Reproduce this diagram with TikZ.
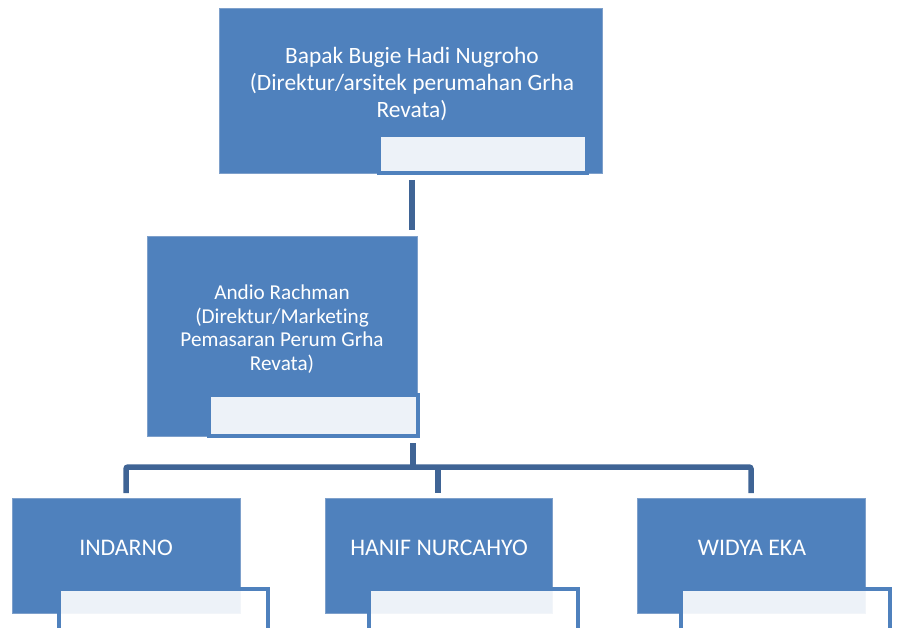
\documentclass[tikz,border=0pt]{standalone}
\usepackage{fontspec}
\setmainfont{Carlito}[Ligatures=NoCommon]
\definecolor{boxblue}{HTML}{4F81BD}
\definecolor{boxedge}{HTML}{7EA0CB}
\definecolor{connblue}{HTML}{3F6495}
\begin{document}
\begin{tikzpicture}[x=1pt,y=1pt,
  person/.style={draw=boxedge,line width=0.8pt,fill=boxblue,inner sep=0pt,minimum width=#1},
  labelbox/.style={draw=boxblue,line width=4pt,fill=white,fill opacity=0.9,draw opacity=1,inner sep=0pt},
  nametext/.style={text=white,align=center,inner sep=0pt},
  conn/.style={draw=connblue,line width=5.5pt,rounded corners=2pt}]
\clip (0,0) rectangle (897,-628);
\useasboundingbox (0,0) rectangle (897,-628);
% top
\node[person=383pt,minimum height=165pt] (top) at (410.5,-90.5) {};
\node[labelbox,minimum width=208pt,minimum height=38pt] (toplbl) at (483,-154) {};
\node[nametext,font=\fontsize{23.4}{26.7}\selectfont] (toptext) at (412,-84) {Bapak Bugie Hadi Nugroho\\(Direktur/arsitek perumahan Grha\\Revata)};
% middle
\node[person=270pt,minimum height=200pt] (mid) at (282,-336) {};
\node[labelbox,minimum width=209pt,minimum height=41pt] (midlbl) at (313.5,-415.5) {};
\node[nametext,font=\fontsize{21.2}{23.7}\selectfont] (midtext) at (282,-329) {Andio Rachman\\(Direktur/Marketing\\Pemasaran Perum Grha\\Revata)};
% bottom
\node[person=228pt,minimum height=115pt] (b1) at (126,-555.5) {};
\node[labelbox,minimum width=209pt,minimum height=61pt] (b1lbl) at (163.5,-619.5) {};
\node[nametext,font=\fontsize{23.8}{28}\selectfont] (b1text) at (126,-548) {INDARNO};
\node[person=227pt,minimum height=115pt] (b2) at (438.5,-555.5) {};
\node[labelbox,minimum width=209pt,minimum height=61pt] (b2lbl) at (473.5,-619.5) {};
\node[nametext,font=\fontsize{23.8}{28}\selectfont] (b2text) at (439,-548) {HANIF NURCAHYO};
\node[person=228pt,minimum height=115pt] (b3) at (751,-555.5) {};
\node[labelbox,minimum width=209pt,minimum height=61pt] (b3lbl) at (785.5,-619.5) {};
\node[nametext,font=\fontsize{23.8}{28}\selectfont] (b3text) at (752,-548) {WIDYA EKA};
% connectors
\coordinate (c0) at (412,-180);
\coordinate (c1) at (412,-230);
\draw[conn,line width=6pt] (c0) -- (c1);
\coordinate (m0) at (413,-443);
\coordinate (bus) at (413,-467);
\draw[conn] (m0) -- (bus);
\coordinate (d1) at (126,-493);
\coordinate (d2) at (438,-493);
\coordinate (d3) at (751,-493);
\draw[conn] (d1) |- (bus) -| (d3);
\draw[conn] (bus -| d2) -- (d2);
\end{tikzpicture}
\end{document}
